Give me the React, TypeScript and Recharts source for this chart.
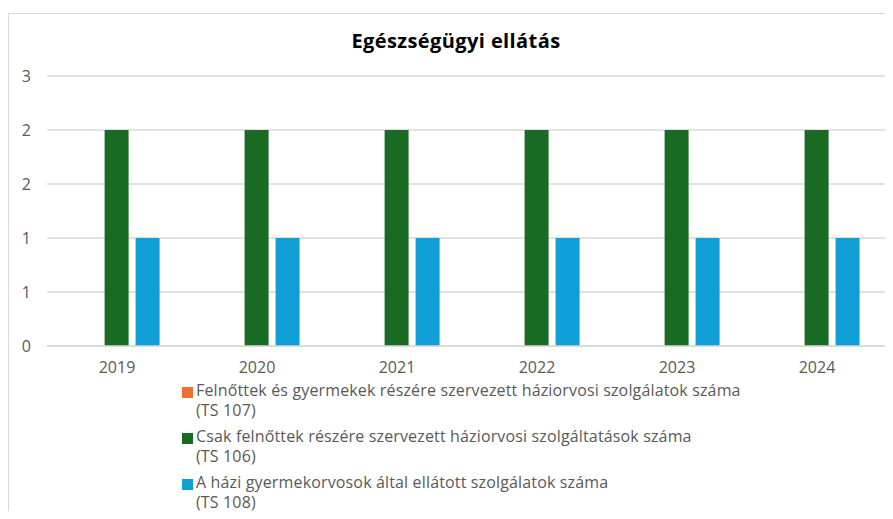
import { BarChart, Bar, XAxis, YAxis, CartesianGrid } from 'recharts'

// Egészségügyi ellátás – Excel-style clustered column chart

const years = ['2019', '2020', '2021', '2022', '2023', '2024']
const ts107 = [0, 0, 0, 0, 0, 0]
const ts106 = [2, 2, 2, 2, 2, 2]
const ts108 = [1, 1, 1, 1, 1, 1]
const yTicks = [0, 0.5, 1, 1.5, 2, 2.5]

const series = [
  { key: 'ts107', name: 'Felnőttek és gyermekek részére szervezett háziorvosi szolgálatok száma\n(TS 107)', color: '#E97132' },
  { key: 'ts106', name: 'Csak felnőttek részére szervezett háziorvosi szolgáltatások száma\n(TS 106)', color: '#196B24' },
  { key: 'ts108', name: 'A házi gyermekorvosok által ellátott szolgálatok száma\n(TS 108)', color: '#0F9ED5' },
]

const data = years.map((year, i) => ({
  year,
  ts107: ts107[i],
  ts106: ts106[i],
  ts108: ts108[i],
}))

const font = '"Open Sans", sans-serif'

export default function App() {
  return (
    <div style={{ position: 'relative', width: 893, height: 519, margin: -8, fontFamily: font, background: '#fff', overflow: 'hidden' }}>
      <div
        style={{
          position: 'absolute',
          left: 8,
          top: 13,
          width: 900,
          height: 520,
          borderTop: '1px solid #d9d9d9',
          borderLeft: '1px solid #d9d9d9',
        }}
      />
      <div
        style={{
          position: 'absolute',
          left: 0,
          width: 912,
          top: 27,
          textAlign: 'center',
          fontWeight: 700,
          fontSize: 20,
          letterSpacing: 0.4,
          color: '#000',
        }}
      >
        Egészségügyi ellátás
      </div>
      <div style={{ position: 'absolute', left: 0, top: 0 }}>
        <BarChart
          width={893}
          height={400}
          data={data}
          margin={{ top: 76, right: 6, bottom: 24, left: 8 }}
          barCategoryGap="19%"
          barGap={7}
        >
          <CartesianGrid vertical={false} stroke="#d9d9d9" strokeWidth={1.5} />
          <XAxis
            dataKey="year"
            axisLine={{ stroke: '#d9d9d9', strokeWidth: 1.5 }}
            tickLine={false}
            tickSize={0}
            tickMargin={16}
            height={30}
            tick={{ fontSize: 16, fill: '#595959', fontFamily: font }}
          />
          <YAxis
            domain={[0, 2.5]}
            ticks={yTicks}
            width={39}
            axisLine={false}
            tickLine={false}
            tickSize={0}
            tickMargin={16}
            tickFormatter={(v: number) => String(Math.round(v))}
            tick={{ fontSize: 16, fill: '#595959', fontFamily: font }}
          />
          {series.map((s) => (
            <Bar key={s.key} dataKey={s.key} name={s.name} fill={s.color} isAnimationActive={false} />
          ))}
        </BarChart>
      </div>
      <div style={{ position: 'absolute', left: 182, top: 380 }}>
        {series.map((s) => (
          <div key={s.key} style={{ display: 'flex', alignItems: 'flex-start', marginBottom: 6 }}>
            <div style={{ width: 11, height: 11, background: s.color, marginTop: 7, marginRight: 3, flexShrink: 0 }} />
            <div style={{ whiteSpace: 'pre-line', fontSize: 16, letterSpacing: 0.15, lineHeight: '20px', color: '#595959' }}>{s.name}</div>
          </div>
        ))}
      </div>
    </div>
  )
}
